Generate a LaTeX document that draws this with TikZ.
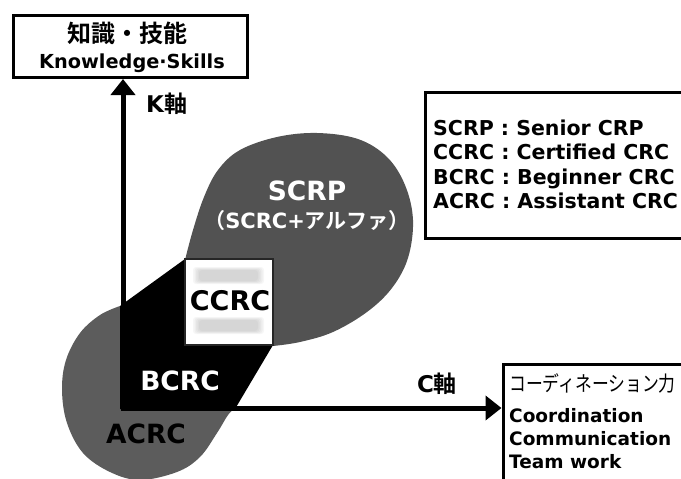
\documentclass[tikz,border=0pt]{standalone}
\usepackage{fontspec}
\setmainfont{DejaVu Sans}
\newfontfamily\cjk{Noto Sans CJK JP}[BoldFont={Noto Sans CJK JP Bold}]
\usetikzlibrary{arrows.meta}
\definecolor{blobgray}{RGB}{82,82,82}
\definecolor{lobegray}{RGB}{92,92,92}
\newcommand\myfs[1]{\fontsize{#1}{#1}\selectfont}
\tikzset{
  frame/.style={draw=black,line width=3pt,inner sep=0pt,fill=white},
  lbl/.style={inner sep=0pt,font=\bfseries},
  axisline/.style={line width=5pt,-{Triangle[length=16pt,width=24pt]}},
  band/.style={fill=gray,opacity=0.07,rounded corners=3pt}
}
\begin{document}
\begin{tikzpicture}[x=1pt,y=-1pt]
\useasboundingbox (0,0) rectangle (681,479);
\clip (0,0) rectangle (681,479);
% upper lobe
\fill[blobgray] plot[smooth,tension=0.6] coordinates {(185,260) (193,230) (204,197) (218,170) (240,150) (277,137) (317,133) (358,139) (387,157) (405,185) (413,220) (408,258) (392,288) (367,312) (333,332) (300,342) (273,346)} -- cycle;
% lower lobe
\fill[lobegray] plot[smooth,tension=0.6] coordinates {(120,306) (100,315) (80,333) (66,360) (62,390) (67,423) (83,453) (110,472) (140,480) (177,472) (200,457) (217,433) (228,415) (235,408)} -- (120,408) -- cycle;
% black band
\fill[black] (120,306) -- (185,259) -- (273,345) -- (235,409) -- (120,409) -- cycle;
% CCRC square
\node[draw=black!85,line width=1.2pt,fill=white,minimum width=88pt,minimum height=86pt,inner sep=0pt] (sq) at (229,302) {};
\foreach \d in {0,1.5,3,4.5,6}{
  \fill[band] (193+\d,267+\d*0.5) rectangle (264-\d,284-\d*0.5);
  \fill[band] (193+\d,317+\d*0.5) rectangle (264-\d,334-\d*0.5);
}
\node[lbl,font=\bfseries\myfs{27}] (ccrc) at (230,301) {CCRC};
\node[lbl,font=\bfseries\myfs{26.5},text=white] (bcrc) at (180,381) {BCRC};
\node[lbl,font=\bfseries\myfs{26.5}] (acrc) at (146,434) {ACRC};
\node[lbl,font=\bfseries\myfs{26.5},text=white] (scrp) at (307,191) {SCRP};
\node[lbl,font=\bfseries\myfs{21},text=white] (scrc) at (307,221) {{\cjk\bfseries （}SCRC+{\cjk\bfseries アルファ）}};
% boxes
\node[frame,minimum width=234pt,minimum height=62pt] (kbox) at (130.5,46.5) {};
\node[lbl,font=\cjk\bfseries\myfs{24}] (kjp) at (127,33) {知識・技能};
\node[lbl,font=\bfseries\myfs{19.3},anchor=base] (ken) at (132,68) {Knowledge·Skills};
\node[frame,minimum width=275pt,minimum height=146pt] (legend) at (562.5,165) {};
\node[lbl,font=\bfseries\myfs{20.5},anchor=base west] (l1) at (433,135) {SCRP : Senior CRP};
\node[lbl,font=\bfseries\myfs{20.5},anchor=base west] (l2) at (433,159.5) {CCRC : Certified CRC};
\node[lbl,font=\bfseries\myfs{20.5},anchor=base west] (l3) at (433,184) {BCRC : Beginner CRC};
\node[lbl,font=\bfseries\myfs{20.5},anchor=base west] (l4) at (433,208) {ACRC : Assistant CRC};
\node[frame,minimum width=197pt,minimum height=136pt] (cbox) at (601.5,432) {};
\node[lbl,font=\cjk\myfs{16.8},anchor=west] (cjp) at (509,383) {\scalebox{1}[1.25]{コーディネーション力}};
\node[lbl,font=\bfseries\myfs{18.5},anchor=base west] (c1) at (509,422) {Coordination};
\node[lbl,font=\bfseries\myfs{18.5},anchor=base west] (c2) at (509,445) {Communication};
\node[lbl,font=\bfseries\myfs{18.5},anchor=base west] (c3) at (509,468) {Team work};
% axes
\coordinate (origin) at (123,408);
\draw[axisline] ([yshift=2.5pt]origin) -- (origin |- kbox.south);
\draw[axisline] ([xshift=-2.5pt]origin) -- (origin -| cbox.west);
\node[lbl,font=\bfseries\myfs{23},anchor=west] (kax) at (146,104) {K{\cjk\bfseries 軸}};
\node[lbl,font=\bfseries\myfs{23}] (cax) at (437,384) {C{\cjk\bfseries 軸}};
\end{tikzpicture}
\end{document}
